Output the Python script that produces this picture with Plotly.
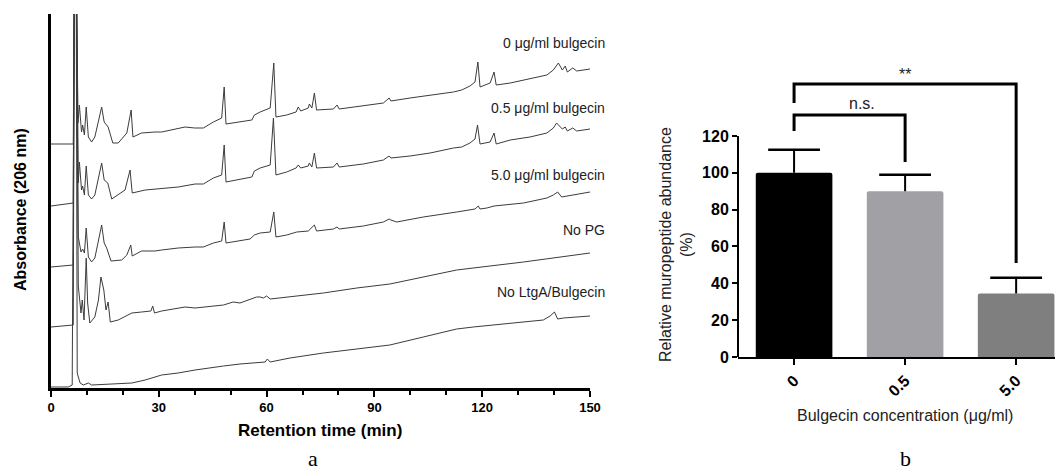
import plotly.graph_objects as go

# ---------------- Panel a: chromatograms (retention time, min / absorbance, a.u.) ----------------
t_0ug = [0, 6.2, 6.5, 7.1, 7.5, 7.9, 8.5, 8.8, 9.3, 9.8, 10.4, 11.3, 12.2, 14.1, 14.8, 15.9, 17.2, 18.7,
         21.1, 22.3, 22.8, 25.2, 28.9, 30.8, 37.3, 40, 42.4, 45.2, 47.5, 48.2, 48.7, 55.9, 56.6, 58.2, 61,
         62, 62.6, 65.6, 68.2, 68.8, 69.5, 71.6, 71.9, 72.6, 73.3, 73.9, 78.6, 79.6, 80.2, 82.3, 86.9,
         92.5, 94.1, 94.6, 99.9, 105.5, 112, 114.3, 116.6, 118, 118.8, 119.4, 122.2, 123.3, 123.9, 127.8,
         133.3, 138, 139.8, 141.2, 142.3, 143.1, 143.7, 145.2, 146.3, 150]
a_0ug = [244, 244, 420, 420, 265, 283, 256, 263, 253, 281, 251, 246, 251, 281, 266, 261, 245, 245,
         255, 278, 251, 255, 256, 256, 261, 260, 260, 266, 270, 301, 264, 268, 273, 276, 280,
         325, 271, 273, 276, 281, 277, 280, 284, 280, 295, 278, 279, 283, 279, 280, 282,
         285, 290, 287, 290, 293, 296, 298, 302, 306, 326, 301, 305, 316, 303, 305,
         309, 313, 318, 325, 318, 322, 316, 320, 317, 319]

t_05ug = [0, 6.2, 6.5, 7.1, 7.6, 7.9, 8.5, 8.8, 9.3, 9.8, 10.4, 11.3, 12.2, 14.1, 14.8, 15.8, 16.9, 20.6,
          22.0, 22.6, 26.2, 35.4, 40.1, 42.4, 45.2, 47.5, 48.2, 48.7, 55.9, 56.6, 58.2, 61, 61.9, 62.6,
          65.6, 68.2, 68.8, 69.5, 71.6, 71.9, 72.6, 73.3, 73.9, 78.6, 79.6, 80.2, 86.9, 92.5, 94.1, 94.6,
          99.9, 105.5, 112, 114.3, 116.6, 118, 118.7, 119.4, 122.2, 123.3, 123.9, 127.8, 133.3, 138,
          139.8, 140.7, 142.3, 143.1, 143.7, 145.2, 146.3, 150]
a_05ug = [182, 185, 420, 420, 205, 226, 198, 202, 193, 222, 193, 189, 193, 225, 208, 205, 189, 198,
          218, 195, 198, 201, 204, 204, 210, 213, 243, 206, 211, 217, 220, 223, 270, 213,
          216, 220, 223, 220, 222, 225, 221, 235, 220, 221, 225, 221, 224, 228, 232, 230,
          232, 235, 240, 241, 245, 249, 263, 244, 246, 255, 244, 248, 251, 255,
          260, 265, 259, 261, 257, 260, 257, 259]

t_5ug = [0, 6.2, 6.5, 7.0, 7.6, 8.35, 8.8, 9.3, 9.8, 10.4, 11.3, 12.2, 14.1, 14.8, 15.5, 16.7, 19.7,
         21.1, 22.2, 22.6, 25.2, 28.9, 30.8, 35.4, 40.1, 42.4, 45.2, 47.5, 48.2, 48.7, 55.4, 56.6, 58.2,
         61, 62, 62.6, 65.6, 68.4, 71.6, 73.3, 73.9, 78.6, 79.6, 80.2, 86.9, 92.5, 94.1, 94.6, 96.2,
         103.6, 112.9, 118, 118.9, 119.4, 121.3, 123.3, 131.5, 138, 139.8, 141, 142.1, 145.4, 150]
a_5ug = [121, 123, 420, 420, 151, 136, 139, 135, 160, 131, 126, 130, 163, 145, 140, 127, 128,
         133, 143, 132, 137, 137, 138, 140, 141, 141, 145, 147, 166, 145, 149, 153, 155,
         156, 176, 151, 153, 156, 157, 163, 157, 159, 161, 159, 162, 166, 169, 168, 166,
         171, 176, 179, 182, 179, 180, 182, 185, 190, 193, 196, 191, 193, 196]

t_nopg = [0, 6.2, 6.5, 7.0, 7.6, 8.35, 8.7, 9.2, 9.8, 10.2, 10.8, 12.2, 13.2, 13.9, 14.7, 15.3, 15.9,
          16.5, 18.7, 22.5, 25.2, 27.8, 28.3, 28.8, 30.8, 35.4, 37.3, 40.1, 48, 50.7, 52.6, 57.2, 58.2,
          59.1, 60, 61, 66.5, 75.8, 85.1, 94.3, 112.9, 131.5, 150]
a_nopg = [61, 63, 420, 420, 102, 75, 88, 68, 130, 85, 65, 71, 88, 111, 98, 78, 86,
          66, 68, 75, 76, 77, 82, 75, 77, 80, 81, 80, 83, 86, 85, 91, 91,
          90, 92, 89, 91, 95, 100, 104, 118, 126, 135]

t_noltga = [0, 4.8, 5.9, 6.5, 7.0, 7.3, 7.6, 8.1, 9.0, 10.4, 11.3, 16.9, 22.5, 26.2, 30.8, 35.4, 40.1,
            48, 52.6, 59.6, 60.2, 61, 66.5, 75.8, 85.1, 94.3, 103.6, 112.9, 117.5, 128.7, 133.3, 137,
            138.9, 140.1, 141, 142.6, 150]
a_noltga = [1, 1, 3, 420, 420, 15, 11, 5, 3, 5, 3, 4, 5, 8, 13, 15, 18,
            22, 24, 26, 29, 26, 30, 35, 39, 43, 51, 59, 61, 65, 66, 68,
            72, 76, 69, 70, 72]

trace_labels = ["0 μg/ml bulgecin", "0.5 μg/ml bulgecin", "5.0 μg/ml bulgecin", "No PG", "No LtgA/Bulgecin"]
label_levels = [345, 280, 213, 158, 96]

# ---------------- Panel b: bar chart ----------------
conc = ["0", "0.5", "5.0"]
abundance = [100, 90, 34.5]
sem = [12.5, 9, 8.5]
bar_colors = ["#000000", "#a1a1a5", "#7f7f7f"]

ns_x = ["0", "0", "0.5", "0.5"]
ns_y = [122.7, 131.4, 131.4, 105.9]
ss_x = ["0", "0", "5.0", "5.0"]
ss_y = [137.9, 148.2, 148.2, 51.0]

W, H = 1064, 470
def px(x):
    return x / W
def py(y):
    return 1 - y / H

SANS = "Liberation Sans, Arial, sans-serif"
SERIF = "Liberation Serif, Times New Roman, serif"

fig = go.Figure()
line_col = "#3c3c3c"
for t, a in [(t_0ug, a_0ug), (t_05ug, a_05ug), (t_5ug, a_5ug), (t_nopg, a_nopg), (t_noltga, a_noltga)]:
    fig.add_trace(go.Scatter(x=t, y=a, mode="lines", line=dict(color=line_col, width=1),
                             xaxis="x", yaxis="y", showlegend=False, hoverinfo="skip"))

fig.add_trace(go.Bar(x=conc, y=abundance, marker=dict(color=bar_colors, line=dict(width=0), cornerradius=2),
                     width=0.69, xaxis="x2", yaxis="y2", showlegend=False, hoverinfo="skip"))
# upper error bars: cap marker at mean+SEM, stem going down to the bar top
fig.add_trace(go.Scatter(x=conc, y=[a + s for a, s in zip(abundance, sem)], mode="markers",
                         marker=dict(symbol="line-ew", size=37, line=dict(color="black", width=2.5)),
                         error_y=dict(type="data", symmetric=False, array=[0, 0, 0], arrayminus=sem,
                                      thickness=2, width=0, color="black"),
                         xaxis="x2", yaxis="y2", showlegend=False, hoverinfo="skip"))
for bx, by in [(ns_x, ns_y), (ss_x, ss_y)]:
    fig.add_trace(go.Scatter(x=bx, y=by, mode="lines", line=dict(color="black", width=3),
                             xaxis="x2", yaxis="y2", showlegend=False, hoverinfo="skip"))

fig.update_layout(
    width=W, height=H, margin=dict(l=0, r=0, t=0, b=0, autoexpand=False),
    paper_bgcolor="white", plot_bgcolor="white", showlegend=False,
    font=dict(family=SANS, color="black"),
    xaxis=dict(domain=[px(51), px(590)], range=[0, 150], tickvals=[0, 30, 60, 90, 120, 150],
               showline=True, linewidth=2.5, linecolor="black", ticks="outside", ticklen=6, tickwidth=2,
               tickcolor="black", minor=dict(dtick=10, ticks="outside", ticklen=4, tickwidth=2, tickcolor="black"),
               tickfont=dict(family=SANS, size=13, color="black", weight="bold"),
               showgrid=False, zeroline=False, anchor="y", automargin=False),
    yaxis=dict(domain=[py(388), py(14)], range=[0, 374], showline=True, linewidth=2.5, linecolor="black",
               showticklabels=False, ticks="", showgrid=False, zeroline=False, anchor="x", automargin=False),
    xaxis2=dict(domain=[px(738), px(1055)], range=[-0.505, 2.35], type="category",
                showline=True, linewidth=2, linecolor="black", ticks="outside", ticklen=6, tickwidth=2,
                tickcolor="black", tickangle=-45,
                tickfont=dict(family=SANS, size=16, color="black", weight="bold"),
                showgrid=False, zeroline=False, anchor="y2", automargin=False),
    yaxis2=dict(domain=[py(357), py(80.7)], range=[0, 150], tickvals=[0, 20, 40, 60, 80, 100, 120],
                showline=False, ticks="outside", ticklen=5, tickwidth=2, tickcolor="black",
                tickfont=dict(family=SANS, size=16, color="black", weight="bold"),
                showgrid=False, zeroline=False, anchor="x2", automargin=False),
)

# y axis line of panel b (stops at 120)
fig.add_shape(type="line", xref="x2 domain", yref="y2", x0=0, x1=0, y0=0, y1=120,
              line=dict(color="black", width=2))

ann = []
for lab, lev in zip(trace_labels, label_levels):
    ann.append(dict(x=px(607), y=py(388 - lev), xref="paper", yref="paper", text=lab, showarrow=False,
                    xanchor="right", yanchor="middle", font=dict(family=SANS, size=14, color="#222222")))

def centered(x, y, text, font, angle=0):
    return dict(x=px(x), y=py(y), xref="paper", yref="paper", text=text, showarrow=False,
                xanchor="center", yanchor="middle", textangle=angle, font=font)

ann += [
    centered(20, 210, "Absorbance (206 nm)", dict(family=SANS, size=16, color="black", weight="bold"), -90),
    centered(320, 430, "Retention time (min)", dict(family=SANS, size=17, color="black", weight="bold")),
    centered(313, 458, "a", dict(family=SERIF, size=22, color="black")),
    centered(676, 245, "Relative muropeptide abundance<br>(%)", dict(family=SANS, size=16, color="#222222"), -90),
    centered(905, 415, "Bulgecin concentration (μg/ml)", dict(family=SANS, size=16, color="#222222")),
    centered(905, 458, "b", dict(family=SERIF, size=22, color="black")),
    centered(862, 103, "n.s.", dict(family=SANS, size=16, color="#222222")),
    centered(905, 74, "**", dict(family=SANS, size=16, color="#222222")),
]
fig.update_layout(annotations=ann)

fig.write_html("out.html", config={"displayModeBar": False},
               post_script="document.body.style.margin='0px';document.body.style.overflow='hidden';")
